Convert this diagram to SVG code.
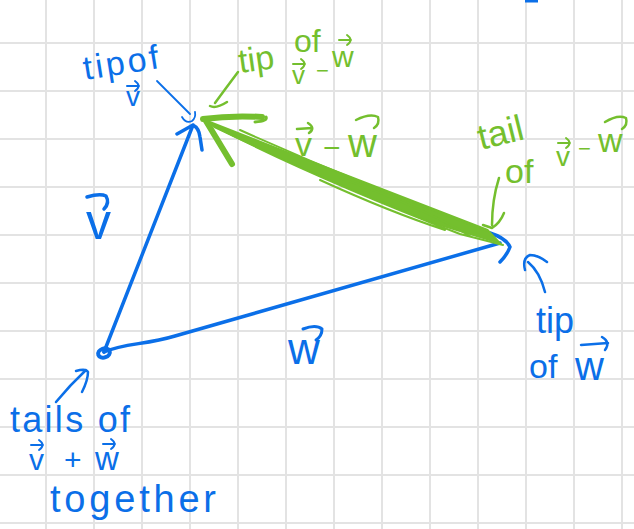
<svg xmlns="http://www.w3.org/2000/svg" xmlns:xlink="http://www.w3.org/1999/xlink" width="634" height="529" viewBox="0 0 634 529">
<style>
.grid line{stroke:#e3e3e3;stroke-width:2}
.b{stroke:#0b6fe8;fill:none;stroke-linecap:round;stroke-linejoin:round}
.g{stroke:#74bf2e;fill:none;stroke-linecap:round;stroke-linejoin:round}
.tb{fill:#0b6fe8;font-family:"Liberation Sans",Arial,sans-serif}
.tg{fill:#74bf2e;font-family:"Liberation Sans",Arial,sans-serif}
</style>
<defs>
<path id="vec" d="M0,0 H12 M8,-5 Q15,0 8,5"/>
</defs>
<rect width="634" height="529" fill="#ffffff"/>
<g class="grid">
<line x1="46" y1="0" x2="46" y2="529"/><line x1="94" y1="0" x2="94" y2="529"/><line x1="142" y1="0" x2="142" y2="529"/><line x1="190" y1="0" x2="190" y2="529"/><line x1="238" y1="0" x2="238" y2="529"/><line x1="286" y1="0" x2="286" y2="529"/><line x1="334" y1="0" x2="334" y2="529"/><line x1="382" y1="0" x2="382" y2="529"/><line x1="430" y1="0" x2="430" y2="529"/><line x1="478" y1="0" x2="478" y2="529"/><line x1="526" y1="0" x2="526" y2="529"/><line x1="574" y1="0" x2="574" y2="529"/><line x1="622" y1="0" x2="622" y2="529"/>
<line x1="0" y1="43" x2="634" y2="43"/><line x1="0" y1="91" x2="634" y2="91"/><line x1="0" y1="139" x2="634" y2="139"/><line x1="0" y1="187" x2="634" y2="187"/><line x1="0" y1="235" x2="634" y2="235"/><line x1="0" y1="283" x2="634" y2="283"/><line x1="0" y1="331" x2="634" y2="331"/><line x1="0" y1="379" x2="634" y2="379"/><line x1="0" y1="427" x2="634" y2="427"/><line x1="0" y1="475" x2="634" y2="475"/><line x1="0" y1="523" x2="634" y2="523"/>
</g>
<rect x="525" y="0" width="13" height="2.5" fill="#0b6fe8"/>

<g id="connectors">
  <!-- vector v -->
  <path class="b" stroke-width="3.5" d="M104,352 L193,125 M177,134 L193,125 Q199,128 200,137 L202,150"/>
  <!-- vector w -->
  <path class="b" stroke-width="3.5" d="M104,352 C125,343 145,345 175,336 L500,243 M490,233 Q506,238 510,247 Q507,255 500,262"/>
  <!-- tail dot -->
  <ellipse class="b" cx="104" cy="353" rx="6" ry="4.5" stroke-width="4" transform="rotate(-20 104 353)"/>
  <!-- green v-w -->
  <path fill="#74bf2e" d="M205,119 L320,164 L488,229 L503,245 L430,223 L320,177 L214,128 Z"/>
  <path class="g" stroke-width="2" d="M212,125 Q310,176 460,234 L503,245 M240,130 Q360,184 488,231 M320,180 Q390,212 445,230 M340,178 Q420,206 470,236"/>
  <path class="g" stroke-width="6" d="M203,119 C225,116 245,116 262,117"/>
  <path class="g" stroke-width="3" d="M255,122 Q268,121 266,117"/>
  <path class="g" stroke-width="6" d="M206,121 L232,164"/>
  <!-- pointers -->
  <path class="b" stroke-width="1.8" d="M157,81 Q172,96 190,114 M182,117 Q186,124 192,121 Q196,118 195,112"/>
  <path class="g" stroke-width="2.5" d="M238,72 Q226,88 215,103 M210,106 Q216,109 227,102"/>
  <path class="g" stroke-width="2.5" d="M499,178 Q492,200 492,225 M483,225 L492,228 Q500,223 504,213"/>
  <path class="b" stroke-width="2.5" d="M545,292 Q540,272 528,262 M525,270 Q522,258 530,255 Q538,255 547,262"/>
  <path class="b" stroke-width="2.5" d="M56,402 Q70,385 86,370 M76,371 Q86,368 88,372 Q88,380 82,392"/>
</g>

<g id="label-tip-of-v">
  <text class="tb" x="85" y="80" font-size="34" textLength="76" lengthAdjust="spacing" transform="rotate(-9 85 80)">tipof</text>
  <text class="tb" x="126" y="106" font-size="28">v</text>
  <use href="#vec" xlink:href="#vec" class="b" stroke-width="2" x="127" y="86"/>
</g>
<g id="label-v">
  <text class="tb" x="86" y="239" font-size="50">v</text>
  <path class="b" stroke-width="3.5" d="M87,197 Q100,193 106,196 Q110,203 104,209"/>
</g>
<g id="label-w">
  <text class="tb" x="288" y="364" font-size="44">w</text>
  <path class="b" stroke-width="3" d="M303,329 Q316,324 322,329 Q322,336 316,340"/>
</g>
<g id="label-tip-of-w">
  <text class="tb" x="536" y="333" font-size="36">tip</text>
  <text class="tb" x="529" y="378" font-size="34">of</text>
  <text class="tb" x="575" y="380" font-size="40">w</text>
  <path class="b" stroke-width="2.5" d="M581,345 L608,343 M602,337 Q611,342 605,350"/>
</g>
<g id="label-tails">
  <text class="tb" x="10" y="432" font-size="36" textLength="120" lengthAdjust="spacing">tails of</text>
  <text class="tb" x="29" y="470" font-size="30">v</text>
  <text class="tb" x="64" y="470" font-size="30">+</text>
  <text class="tb" x="95" y="470" font-size="33">w</text>
  <use href="#vec" xlink:href="#vec" class="b" stroke-width="2" x="31" y="445"/>
  <use href="#vec" xlink:href="#vec" class="b" stroke-width="2" x="103" y="444"/>
  <text class="tb" x="50" y="512" font-size="38" textLength="166" lengthAdjust="spacing">together</text>
</g>

<g id="label-tip-of-vw">
  <text class="tg" x="240" y="73" font-size="34" transform="rotate(-8 240 73)">tip</text>
  <text class="tg" x="294" y="52" font-size="32">of</text>
  <text class="tg" x="292" y="84" font-size="26">v</text>
  <text class="tg" x="316" y="78" font-size="22">−</text>
  <text class="tg" x="332" y="67" font-size="30">w</text>
  <use href="#vec" xlink:href="#vec" class="g" stroke-width="2" x="293" y="64"/>
  <use href="#vec" xlink:href="#vec" class="g" stroke-width="2" x="339" y="40"/>
</g>
<g id="label-vw">
  <text class="tg" x="295" y="156" font-size="34">v</text>
  <text class="tg" x="323" y="158" font-size="30">−</text>
  <text class="tg" x="348" y="157" font-size="40">w</text>
  <path class="g" stroke-width="2.5" d="M297,129 L312,128 M308,123 Q316,128 309,133"/>
  <path class="g" stroke-width="2.5" d="M356,120 Q370,113 378,117 Q380,124 374,128"/>
</g>
<g id="label-tail-of-vw">
  <text class="tg" x="481" y="150" font-size="36" transform="rotate(-14 481 150)">tail</text>
  <text class="tg" x="505" y="183" font-size="34">of</text>
  <text class="tg" x="556" y="166" font-size="28">v</text>
  <text class="tg" x="578" y="156" font-size="22">−</text>
  <text class="tg" x="598" y="152" font-size="34">w</text>
  <use href="#vec" xlink:href="#vec" class="g" stroke-width="2" x="558" y="143"/>
  <path class="g" stroke-width="2.5" d="M605,122 Q618,114 626,118 Q628,125 622,129"/>
</g>
</svg>
